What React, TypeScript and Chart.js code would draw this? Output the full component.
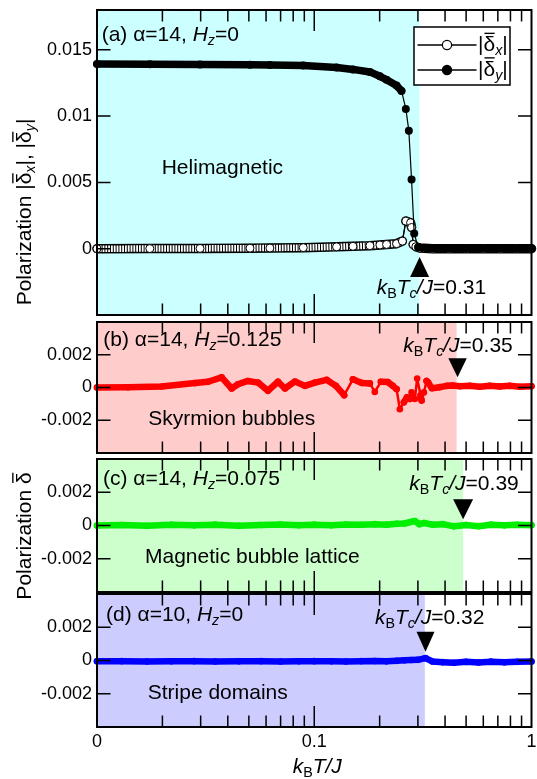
import React, { useEffect, useRef } from "react";
import { Chart, registerables } from "chart.js";

Chart.register(...registerables);

const FONT = '"Liberation Sans", Arial, Helvetica, sans-serif';
const W = 537;
const H = 779;
const PLOT_RIGHT = 531.5;

// ---------- axes ----------
const X_MIN = 0.01;
const X_MAX = 1;
const X_TICKS = [0.01, 0.02, 0.03, 0.04, 0.05, 0.06, 0.07, 0.08, 0.09, 0.1, 0.2, 0.3, 0.4, 0.5, 0.6, 0.7, 0.8, 0.9, 1];
const X_LABEL_VALUES = [0.01, 0.1, 1];
const X_LABEL_TEXT = ["0", "0.1", "1"];
const X_MAJOR = [0.1];

const Y_TICKS_A = [0, 0.005, 0.01, 0.015];
const Y_LABELS_A = ["0", "0.005", "0.01", "0.015"];
const Y_TICKS_S = [-0.002, 0, 0.002];
const Y_LABELS_S = ["-0.002", "0", "0.002"];

// ---------- panel (a): |δx| (open) and |δy| (filled) ----------
const T_DX = [0.01, 0.0175, 0.0298, 0.0506, 0.0625, 0.089, 0.1267, 0.1507, 0.1803, 0.2005, 0.2152, 0.2392, 0.2545, 0.264, 0.2775, 0.2805, 0.2853, 0.2936, 0.3063, 0.35, 0.42, 0.5, 0.6, 0.72, 0.85, 1.0];
const DX = [0.0, 0.00001, 0.00002, 0.00004, 0.00005, 0.00008, 0.00014, 0.00018, 0.00023, 0.00028, 0.00032, 0.00038, 0.00057, 0.00208, 0.00196, 0.0016, 0.00032, 0.00015, 0.00005, 0, 0, 0, 0, 0, 0, 0];
const T_DY = [0.01, 0.0175, 0.0298, 0.0506, 0.0625, 0.089, 0.1267, 0.1507, 0.1803, 0.2005, 0.2152, 0.2392, 0.2522, 0.264, 0.2725, 0.2805, 0.2884, 0.3008, 0.33, 0.37, 0.42, 0.48, 0.55, 0.63, 0.72, 0.82, 0.91, 1.0];
const DY = [0.01392, 0.01391, 0.01389, 0.01387, 0.01386, 0.01381, 0.01367, 0.01352, 0.01333, 0.013, 0.01274, 0.0123, 0.0119, 0.01054, 0.0089, 0.00522, 0.00115, 0.0001, 0.00004, 0.00003, 0.00004, 0.00002, 0.00003, 0.00002, 0.00003, 0.00002, 0.00002, 0.00002];

// ---------- panel (b): skyrmion bubbles ----------
const T_B = [0.01, 0.01389, 0.01985, 0.02825, 0.03243, 0.03748, 0.04167, 0.04454, 0.0495, 0.0551, 0.0612, 0.0681, 0.0733, 0.0815, 0.0906, 0.1007, 0.114, 0.1258, 0.1373, 0.1506, 0.1657, 0.1803, 0.19, 0.2026, 0.2183, 0.23, 0.2393, 0.2477, 0.2586, 0.2669, 0.2756, 0.2805, 0.2904, 0.2977, 0.3086, 0.3119, 0.3196, 0.3288, 0.3344, 0.3478, 0.3784, 0.4074, 0.4345, 0.4677, 0.52, 0.578, 0.643, 0.714, 0.794, 0.883, 1.0];
const D_B = [0, 0.00001, 0.00006, 0.00027, 0.00035, 0.00062, -0.00006, 0.0002, 0.0004, 0.0003, -0.0002, 0.00035, -0.00006, 0.00037, 0.0001, 0.0003, 0.00047, 0.0001, -0.00047, 0.0005, 0.00028, 0.00025, -0.00027, 0.00035, 0.00033, 0.0001, -0.0001, -0.00133, -0.0009, -0.0006, -0.0007, -0.0003, -0.0007, 0.00055, -0.00047, -0.0008, -0.0003, 0.0004, 0.0003, -0.00005, 0.00002, 0.0001, 0.00012, 0.00008, 0.0001, 0.00005, 0.0001, 0.00006, 0.0001, 0.00005, 0.00008];

// ---------- panel (c): magnetic bubble lattice ----------
const T_C = [0.01, 0.013, 0.017, 0.022, 0.028, 0.035, 0.045, 0.057, 0.07, 0.085, 0.1, 0.12, 0.14, 0.165, 0.19, 0.215, 0.24, 0.26, 0.29, 0.305, 0.32, 0.35, 0.39, 0.44, 0.5, 0.57, 0.65, 0.75, 0.86, 1.0];
const D_C = [0, 0.00003, -0.00002, 0.00004, 0.00001, 0.00005, -0.00002, 0.00003, 0.00006, 0.00002, 0.00005, 0.00001, 0.00006, 0.00004, 0.00008, 0.00005, 0.0001, 0.00012, 0.00027, 0.00008, 0.00015, 0.00005, 0.00008, -0.00005, 0.00003, -0.00004, 0.00005, 0.00001, 0.00004, 0.00002];

// ---------- panel (d): stripe domains ----------
const T_D = [0.01, 0.013, 0.017, 0.022, 0.028, 0.035, 0.045, 0.057, 0.07, 0.085, 0.1, 0.12, 0.14, 0.165, 0.19, 0.215, 0.24, 0.26, 0.28, 0.3, 0.325, 0.35, 0.39, 0.44, 0.5, 0.57, 0.65, 0.75, 0.86, 1.0];
const D_D = [-0.00005, -0.00004, -0.00006, -0.00005, -0.00004, -0.00006, -0.00005, -0.00004, -0.00006, -0.00005, -0.00004, -0.00005, -0.00006, -0.00004, -0.00003, -0.00005, -0.00002, 0.00001, 0.00003, 0.00004, 0.00014, -0.00006, -0.0001, -0.00014, -0.00008, -0.00012, -0.00007, -0.00011, -0.00008, -0.00006];

// ---------- transition temperatures ----------
const TC_SHADE = [0.305, 0.452, 0.4845, 0.3228];
const TC_ARROW = [0.3055, 0.4567, 0.4845, 0.3252];
const TC_VALUE = ["0.31", "0.35", "0.39", "0.32"];
const PANEL_TAGS = ["(a) α=14, ", "(b) α=14, ", "(c) α=14, ", "(d) α=10, "];
const HZ_VALUES = ["=0", "=0.125", "=0.075", "=0"];
const PHASES = ["Helimagnetic", "Skyrmion bubbles", "Magnetic bubble lattice", "Stripe domains"];

type Run = { t: string; it?: boolean; sub?: boolean; bar?: boolean };

function setFont(ctx: CanvasRenderingContext2D, r: Run, size: number) {
  const s = r.sub ? size * 0.68 : size;
  ctx.font = `${r.it ? "italic " : ""}${s}px ${FONT}`;
}
function runsWidth(ctx: CanvasRenderingContext2D, runs: Run[], size: number) {
  let w = 0;
  for (const r of runs) {
    setFont(ctx, r, size);
    w += ctx.measureText(r.t).width;
  }
  return w;
}
function drawRuns(ctx: CanvasRenderingContext2D, runs: Run[], x: number, y: number, size: number) {
  ctx.save();
  ctx.fillStyle = "#000";
  ctx.strokeStyle = "#000";
  ctx.textBaseline = "alphabetic";
  ctx.textAlign = "left";
  let cx = x;
  for (const r of runs) {
    setFont(ctx, r, size);
    const w = ctx.measureText(r.t).width;
    ctx.fillText(r.t, cx, y + (r.sub ? size * 0.2 : 0));
    if (r.bar) {
      ctx.lineWidth = Math.max(1, size * 0.065);
      ctx.beginPath();
      ctx.moveTo(cx + 1, y - size * 0.84);
      ctx.lineTo(cx + w - 0.5, y - size * 0.84);
      ctx.stroke();
    }
    cx += w;
  }
  ctx.restore();
}

const tcRuns = (v: string): Run[] => [
  { t: "k", it: true },
  { t: "B", sub: true },
  { t: "T", it: true },
  { t: "c", it: true, sub: true },
  { t: "/J", it: true },
  { t: "=" + v },
];
const titleRuns = (i: number): Run[] => [
  { t: PANEL_TAGS[i] },
  { t: "H", it: true },
  { t: "z", it: true, sub: true },
  { t: HZ_VALUES[i] },
];

const Y_TITLE_A: Run[] = [
  { t: "Polarization |" },
  { t: "δ", bar: true },
  { t: "x", it: true, sub: true },
  { t: "|, |" },
  { t: "δ", bar: true },
  { t: "y", it: true, sub: true },
  { t: "|" },
];
const Y_TITLE_S: Run[] = [{ t: "Polarization " }, { t: "δ", bar: true }];
const X_TITLE: Run[] = [{ t: "k", it: true }, { t: "B", sub: true }, { t: "T/J", it: true }];

const pts = (t: number[], v: number[]) => t.map((x, i) => ({ x, y: v[i] }));

const steepA = (c: any) => Math.abs(c.p1.y - c.p0.y) > 8;
const steepB = (c: any) => {
  const dy = Math.abs(c.p1.y - c.p0.y);
  const dx = Math.abs(c.p1.x - c.p0.x) || 0.1;
  return dy > 6 && dy / dx > 1.2;
};

type Panel = {
  idx: number;
  top: number;
  bottom: number;
  yMin: number;
  yMax: number;
  yTicks: number[];
  yLabels: string[];
  shade: string;
  arrowApex: number;
  arrowBase: number;
  arrowHalf: number;
  tcX: number;
  tcY: number;
  titleX: number;
  titleY: number;
  phaseX: number;
  phaseY: number;
  showX: boolean;
  datasets: any[];
};

const bandSet = (t: number[], v: number[], color: string) => ({
  data: pts(t, v),
  borderColor: color,
  backgroundColor: color,
  borderCapStyle: "round",
  borderJoinStyle: "round",
  clip: false,
  segment: { borderWidth: (c: any) => (steepB(c) ? 2.5 : 6.5) },
  pointRadius: 3.3,
  pointBorderWidth: 0,
  pointBackgroundColor: color,
});

const PANELS: Panel[] = [
  {
    idx: 0, top: 10, bottom: 315, yMin: -0.005, yMax: 0.018, yTicks: Y_TICKS_A, yLabels: Y_LABELS_A,
    shade: "#ccffff", arrowApex: 257, arrowBase: 277, arrowHalf: 9.5,
    tcX: 376.7, tcY: 294, titleX: 101.7, titleY: 41, phaseX: 161.7, phaseY: 174, showX: false,
    datasets: [
      {
        data: pts(T_DX, DX), order: 2, borderColor: "#000", pointRadius: 0, clip: false,
        borderCapStyle: "round", borderJoinStyle: "round",
        segment: { borderWidth: (c: any) => (steepA(c) ? 1.2 : 9.5) },
      },
      {
        data: pts(T_DX, DX), order: 1, clip: false, borderCapStyle: "butt", borderJoinStyle: "round",
        borderColor: "#000",
        segment: {
          borderWidth: (c: any) => (steepA(c) ? 1.2 : 6.5),
          borderColor: (c: any) => (steepA(c) ? "#000" : "#fff"),
          borderDash: (c: any) => (steepA(c) ? [] : [1.8, 1]),
        },
        pointRadius: 4, pointBackgroundColor: "#fff", pointBorderColor: "#000", pointBorderWidth: 1,
      },
      {
        data: pts(T_DY, DY), order: 0, clip: false, borderColor: "#000",
        borderCapStyle: "round", borderJoinStyle: "round",
        segment: { borderWidth: (c: any) => (steepA(c) ? 1.2 : 7.5) },
        pointRadius: 4, pointBackgroundColor: "#000", pointBorderColor: "#000", pointBorderWidth: 0,
      },
    ],
  },
  {
    idx: 1, top: 322, bottom: 453, yMin: -0.004, yMax: 0.004, yTicks: Y_TICKS_S, yLabels: Y_LABELS_S,
    shade: "#ffcccc", arrowApex: 377.3, arrowBase: 358.3, arrowHalf: 9.2,
    tcX: 403.3, tcY: 351.5, titleX: 103.3, titleY: 346, phaseX: 148.3, phaseY: 425, showX: false,
    datasets: [bandSet(T_B, D_B, "#ff0000")],
  },
  {
    idx: 2, top: 459, bottom: 592, yMin: -0.004, yMax: 0.004, yTicks: Y_TICKS_S, yLabels: Y_LABELS_S,
    shade: "#ccffcc", arrowApex: 519.3, arrowBase: 499.3, arrowHalf: 10,
    tcX: 409.3, tcY: 490, titleX: 103, titleY: 485, phaseX: 145, phaseY: 563, showX: false,
    datasets: [bandSet(T_C, D_C, "#00ee00")],
  },
  {
    idx: 3, top: 594, bottom: 727, yMin: -0.004, yMax: 0.004, yTicks: Y_TICKS_S, yLabels: Y_LABELS_S,
    shade: "#ccccff", arrowApex: 651.7, arrowBase: 631.7, arrowHalf: 9,
    tcX: 375, tcY: 624, titleX: 106, titleY: 620.5, phaseX: 147.7, phaseY: 699, showX: true,
    datasets: [bandSet(T_D, D_D, "#0000ff")],
  },
];

function panelPlugin(p: Panel) {
  return {
    id: "panel" + p.idx,
    beforeDatasetsDraw(chart: any) {
      const { ctx, chartArea: a, scales } = chart;
      const xe = scales.x.getPixelForValue(TC_SHADE[p.idx]);
      ctx.save();
      ctx.fillStyle = p.shade;
      ctx.fillRect(a.left, a.top, xe - a.left, a.bottom - a.top);
      ctx.restore();
    },
    afterDraw(chart: any) {
      const { ctx, chartArea: a, scales } = chart;
      const xs = scales.x;
      const ys = scales.y;
      ctx.save();
      ctx.strokeStyle = "#000";
      ctx.lineCap = "butt";
      ctx.lineWidth = 1.5;
      ctx.beginPath();
      for (const v of X_TICKS) {
        if (v === X_MIN || v === X_MAX) continue;
        const px = xs.getPixelForValue(v);
        const len = X_MAJOR.includes(v) ? 21 : 11.5;
        ctx.moveTo(px, a.bottom);
        ctx.lineTo(px, a.bottom - len);
        ctx.moveTo(px, a.top);
        ctx.lineTo(px, a.top + len);
      }
      for (const v of p.yTicks) {
        const py = ys.getPixelForValue(v);
        ctx.moveTo(a.left, py);
        ctx.lineTo(a.left + 13.5, py);
        ctx.moveTo(a.right, py);
        ctx.lineTo(a.right - 13.5, py);
      }
      ctx.stroke();
      ctx.lineWidth = 2;
      ctx.strokeRect(a.left, a.top, a.right - a.left, a.bottom - a.top);

      // arrow
      const xa = xs.getPixelForValue(TC_ARROW[p.idx]);
      ctx.fillStyle = "#000";
      ctx.beginPath();
      ctx.moveTo(xa, p.arrowApex);
      ctx.lineTo(xa - p.arrowHalf, p.arrowBase);
      ctx.lineTo(xa + p.arrowHalf, p.arrowBase);
      ctx.closePath();
      ctx.fill();
      ctx.restore();

      drawRuns(ctx, tcRuns(TC_VALUE[p.idx]), p.tcX, p.tcY, 21);
      drawRuns(ctx, titleRuns(p.idx), p.titleX, p.titleY, 21);
      drawRuns(ctx, [{ t: PHASES[p.idx] }], p.phaseX, p.phaseY, 21);

      if (p.idx === 0) {
        // legend
        ctx.save();
        ctx.fillStyle = "#fff";
        ctx.fillRect(414, 27, 96, 58);
        ctx.strokeStyle = "#000";
        ctx.lineWidth = 1.5;
        ctx.strokeRect(414, 27, 96, 58);
        const rows = [
          { y: 45, fill: "#fff", sub: "x", base: 51 },
          { y: 70, fill: "#000", sub: "y", base: 75.5 },
        ];
        for (const r of rows) {
          ctx.beginPath();
          ctx.lineWidth = 1.5;
          ctx.moveTo(417.5, r.y);
          ctx.lineTo(476.5, r.y);
          ctx.stroke();
          ctx.beginPath();
          ctx.arc(447, r.y, 4.6, 0, Math.PI * 2);
          ctx.fillStyle = r.fill;
          ctx.fill();
          ctx.lineWidth = 1.2;
          ctx.stroke();
          drawRuns(ctx, [{ t: "|" }, { t: "δ", bar: true }, { t: r.sub, it: true, sub: true }, { t: "|" }], 478, r.base, 21);
        }
        ctx.restore();
        // y title (a)
        ctx.save();
        ctx.translate(30.5, 212);
        ctx.rotate(-Math.PI / 2);
        const w = runsWidth(ctx, Y_TITLE_A, 21);
        drawRuns(ctx, Y_TITLE_A, -w / 2, 0, 21);
        ctx.restore();
      }
      if (p.idx === 2) {
        ctx.save();
        ctx.translate(30.5, 536);
        ctx.rotate(-Math.PI / 2);
        const w = runsWidth(ctx, Y_TITLE_S, 21);
        drawRuns(ctx, Y_TITLE_S, -w / 2, 0, 21);
        ctx.restore();
      }
      if (p.idx === 3) {
        const w = runsWidth(ctx, X_TITLE, 21);
        drawRuns(ctx, X_TITLE, (a.left + a.right) / 2 + 3 - w / 2, 773, 21);
      }
    },
  };
}

function buildChart(canvas: HTMLCanvasElement, p: Panel) {
  return new Chart(canvas, {
    type: "line",
    data: { datasets: p.datasets },
    options: {
      animation: false,
      responsive: false,
      maintainAspectRatio: false,
      devicePixelRatio: 1,
      events: [],
      layout: { padding: { top: p.top, bottom: p.showX ? 0 : H - p.bottom, left: 0, right: W - PLOT_RIGHT } },
      plugins: { legend: { display: false }, tooltip: { enabled: false } },
      scales: {
        x: {
          type: "logarithmic",
          min: X_MIN,
          max: X_MAX,
          display: p.showX,
          afterBuildTicks: (s: any) => {
            s.ticks = X_TICKS.map((v) => ({ value: v }));
          },
          afterFit: (s: any) => {
            if (p.showX) s.height = H - p.bottom;
            s.paddingLeft = 0;
            s.paddingRight = 0;
          },
          grid: { display: false, drawTicks: false },
          border: { display: false },
          ticks: {
            autoSkip: false,
            maxRotation: 0,
            minRotation: 0,
            padding: 4.5,
            color: "#000",
            font: { family: FONT, size: 18 },
            callback: (v: any) => {
              const i = X_LABEL_VALUES.findIndex((u) => Math.abs(u - Number(v)) < 1e-9);
              return i >= 0 ? X_LABEL_TEXT[i] : "";
            },
          },
        },
        y: {
          type: "linear",
          min: p.yMin,
          max: p.yMax,
          afterBuildTicks: (s: any) => {
            s.ticks = p.yTicks.map((v) => ({ value: v }));
          },
          afterFit: (s: any) => {
            s.width = 97;
            s.paddingTop = 0;
            s.paddingBottom = 0;
          },
          grid: { display: false, drawTicks: false },
          border: { display: false },
          ticks: {
            padding: 5,
            color: "#000",
            font: { family: FONT, size: 18 },
            callback: (v: any) => {
              const i = p.yTicks.findIndex((u) => Math.abs(u - Number(v)) < 1e-12);
              return i >= 0 ? p.yLabels[i] : "";
            },
          },
        },
      },
    } as any,
    plugins: [panelPlugin(p)],
  });
}

export default function App() {
  const refs = useRef<(HTMLCanvasElement | null)[]>([]);
  useEffect(() => {
    const charts = PANELS.map((p, i) => buildChart(refs.current[i] as HTMLCanvasElement, p));
    return () => charts.forEach((c) => c.destroy());
  }, []);
  return (
    <div style={{ position: "fixed", left: 0, top: 0, width: W, height: H, background: "#fff" }}>
      {PANELS.map((p, i) => (
        <canvas
          key={p.idx}
          ref={(el) => {
            refs.current[i] = el;
          }}
          width={W}
          height={H}
          style={{ position: "absolute", left: 0, top: 0, width: W, height: H }}
        />
      ))}
    </div>
  );
}
